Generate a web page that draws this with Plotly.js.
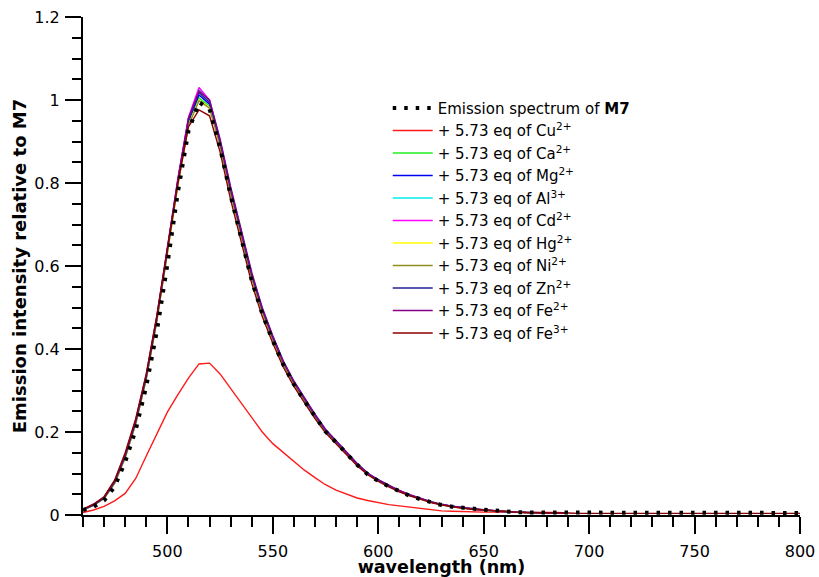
<!DOCTYPE html>
<html>
<head>
<meta charset="utf-8">
<script src="https://cdn.plot.ly/plotly-3.0.1.min.js"></script>
<style>html,body{margin:0;padding:0;background:#fff;}#chart{width:819px;height:577px;}</style>
</head>
<body>
<div id="chart"></div>
<script>
// wavelengths (nm)
const wl = [460,465,470,475,480,485,490,495,500,505,510,515,520,525,530,535,540,545,550,555,560,565,570,575,580,585,590,595,600,605,610,615,620,625,630,635,640,645,650,655,660,665,670,675,680,685,690,695,700,705,710,715,720,725,730,735,740,745,750,755,760,765,770,775,780,785,790,795,800];
const wlIon = [460,465,470,475,480,485,490,495,500,505,510,515,520,525,530,535,540,545,550,555,560,565,570,575,580,585,590,595,600,605,610,615,620,625,630,635,640,645,650,655,660,665,670,675,680,685,690];

const m7 = [0.012,0.020,0.035,0.068,0.128,0.205,0.310,0.442,0.603,0.778,0.925,0.995,0.978,0.885,0.770,0.665,0.565,0.485,0.420,0.362,0.315,0.275,0.236,0.201,0.175,0.148,0.121,0.098,0.082,0.069,0.057,0.046,0.038,0.030,0.024,0.020,0.017,0.014,0.013,0.011,0.008,0.007,0.006,0.006,0.006,0.006,0.005,0.005,0.005,0.005,0.005,0.005,0.005,0.005,0.005,0.005,0.005,0.005,0.005,0.005,0.005,0.005,0.005,0.005,0.005,0.005,0.005,0.005,0.005];
const cu = [0.006,0.012,0.021,0.034,0.052,0.088,0.142,0.195,0.248,0.290,0.330,0.364,0.366,0.340,0.305,0.270,0.236,0.200,0.172,0.150,0.130,0.108,0.090,0.073,0.060,0.050,0.041,0.035,0.030,0.025,0.022,0.019,0.015,0.012,0.010,0.009,0.008,0.008,0.007,0.007,0.007,0.007,0.007,0.007,0.007,0.006,0.005];
const ca = [0.013,0.024,0.040,0.076,0.138,0.220,0.328,0.468,0.632,0.798,0.942,1.005,0.985,0.893,0.778,0.673,0.573,0.490,0.424,0.364,0.317,0.277,0.237,0.202,0.175,0.149,0.121,0.099,0.083,0.070,0.058,0.047,0.039,0.031,0.025,0.020,0.017,0.014,0.012,0.010,0.008,0.007,0.006,0.006,0.005,0.005,0.005];
const mg = [0.012,0.023,0.041,0.078,0.141,0.223,0.331,0.471,0.636,0.802,0.948,1.012,0.990,0.896,0.781,0.676,0.576,0.493,0.426,0.366,0.319,0.279,0.239,0.204,0.177,0.150,0.122,0.100,0.084,0.071,0.058,0.048,0.040,0.031,0.025,0.021,0.017,0.014,0.012,0.010,0.008,0.007,0.006,0.006,0.005,0.005,0.004];
const al = [0.013,0.024,0.041,0.079,0.142,0.224,0.333,0.474,0.640,0.808,0.955,1.025,0.998,0.903,0.788,0.683,0.582,0.498,0.431,0.370,0.322,0.282,0.242,0.206,0.179,0.152,0.124,0.101,0.085,0.072,0.059,0.048,0.040,0.032,0.026,0.021,0.018,0.015,0.012,0.010,0.008,0.007,0.006,0.006,0.005,0.005,0.004];
const cd = [0.013,0.025,0.042,0.080,0.143,0.226,0.335,0.476,0.642,0.810,0.958,1.030,1.000,0.902,0.786,0.681,0.580,0.496,0.429,0.369,0.321,0.281,0.241,0.205,0.178,0.151,0.123,0.100,0.084,0.071,0.059,0.048,0.040,0.031,0.025,0.021,0.017,0.014,0.012,0.010,0.008,0.007,0.006,0.006,0.005,0.005,0.004];
const hg = [0.012,0.023,0.040,0.077,0.139,0.221,0.329,0.468,0.631,0.796,0.940,1.000,0.982,0.892,0.777,0.672,0.572,0.490,0.423,0.364,0.317,0.277,0.237,0.202,0.176,0.149,0.121,0.099,0.083,0.070,0.058,0.047,0.039,0.031,0.025,0.020,0.017,0.014,0.012,0.010,0.008,0.007,0.006,0.006,0.005,0.005,0.005];
const ni = [0.012,0.023,0.040,0.076,0.138,0.220,0.328,0.467,0.630,0.795,0.938,0.998,0.980,0.890,0.776,0.671,0.571,0.489,0.423,0.363,0.316,0.276,0.236,0.201,0.175,0.149,0.121,0.098,0.083,0.070,0.057,0.047,0.039,0.031,0.025,0.020,0.017,0.014,0.012,0.010,0.008,0.007,0.006,0.006,0.005,0.005,0.005];
const zn = [0.013,0.024,0.041,0.079,0.142,0.224,0.332,0.472,0.638,0.805,0.952,1.018,0.994,0.899,0.784,0.679,0.578,0.495,0.428,0.368,0.320,0.280,0.240,0.205,0.178,0.151,0.123,0.100,0.084,0.071,0.058,0.048,0.040,0.031,0.025,0.021,0.017,0.014,0.012,0.010,0.008,0.007,0.006,0.006,0.005,0.005,0.004];
const fe2 = [0.014,0.026,0.043,0.082,0.146,0.229,0.338,0.479,0.644,0.810,0.956,1.022,1.000,0.906,0.791,0.686,0.585,0.500,0.432,0.371,0.323,0.283,0.243,0.207,0.180,0.153,0.124,0.101,0.085,0.072,0.059,0.049,0.040,0.032,0.026,0.021,0.018,0.015,0.012,0.010,0.008,0.007,0.006,0.006,0.005,0.005,0.004];
const fe3 = [0.014,0.026,0.044,0.084,0.150,0.232,0.340,0.480,0.640,0.800,0.935,0.976,0.962,0.875,0.760,0.656,0.558,0.478,0.414,0.356,0.310,0.271,0.232,0.198,0.172,0.146,0.119,0.097,0.081,0.068,0.056,0.046,0.038,0.030,0.024,0.020,0.016,0.014,0.012,0.010,0.008,0.007,0.006,0.006,0.005,0.005,0.005,0.004,0.004,0.004,0.004,0.004,0.004,0.004,0.004,0.004,0.004,0.004,0.004,0.004,0.004,0.004,0.004,0.004,0.004,0.004,0.004,0.004,0.004];

const ionNames = ['+ 5.73 eq of Cu<sup>2+</sup>','+ 5.73 eq of Ca<sup>2+</sup>','+ 5.73 eq of Mg<sup>2+</sup>','+ 5.73 eq of Al<sup>3+</sup>','+ 5.73 eq of Cd<sup>2+</sup>','+ 5.73 eq of Hg<sup>2+</sup>','+ 5.73 eq of Ni<sup>2+</sup>','+ 5.73 eq of Zn<sup>2+</sup>','+ 5.73 eq of Fe<sup>2+</sup>','+ 5.73 eq of Fe<sup>3+</sup>'];
const ionData = [cu, ca, mg, al, cd, hg, ni, zn, fe2, fe3];
const ionX = [wlIon, wlIon, wlIon, wlIon, wlIon, wlIon, wlIon, wlIon, wlIon, wl];
const ionColors = ['#ff1a1a','#22ee22','#0000ee','#00eeee','#ff00ff','#ffff00','#8f8f1f','#20209a','#880088','#8b0000'];

const traces = [];
ionData.forEach((d, i) => {
  traces.push({x: ionX[i], y: d, type: 'scatter', mode: 'lines', name: ionNames[i],
    line: {color: ionColors[i], width: 1.4}, legendrank: i + 2});
});
traces.push({x: wl, y: m7, type: 'scatter', mode: 'lines', name: 'Emission spectrum of <b>M7</b>',
  line: {color: '#000000', width: 4, dash: '3.5px,8px'}, legendrank: 1});

const layout = {
  width: 819, height: 577,
  margin: {l: 83, r: 19, t: 17, b: 62},
  paper_bgcolor: '#ffffff', plot_bgcolor: '#ffffff',
  font: {family: 'DejaVu Sans, Verdana, sans-serif', color: '#000', size: 16},
  showlegend: true,
  legend: {x: 0.425, y: 0.85, xanchor: 'left', yanchor: 'top', bgcolor: 'rgba(0,0,0,0)', itemwidth: 40,
    font: {family: 'DejaVu Sans, Verdana, sans-serif', size: 15, color: '#000'}},
  xaxis: {range: [460, 800], tick0: 500, dtick: 50, ticks: 'outside', ticklen: 17, tickwidth: 2,
    tickcolor: '#000', showline: true, linecolor: '#000', linewidth: 2, showgrid: false, zeroline: false,
    ticklabelstandoff: 4,
    minor: {tick0: 460, dtick: 10, ticks: 'outside', ticklen: 10, tickwidth: 2, tickcolor: '#000', showgrid: false},
    title: {text: '<b>wavelength (nm)</b>', font: {size: 17.5}, standoff: 7}},
  yaxis: {range: [0, 1.2], dtick: 0.2, ticks: 'outside', ticklen: 16, tickwidth: 2, tickcolor: '#000',
    showline: true, linecolor: '#000', linewidth: 2, showgrid: false, zeroline: false,
    ticklabelstandoff: 2,
    minor: {dtick: 0.05, ticks: 'outside', ticklen: 9, tickwidth: 2, tickcolor: '#000', showgrid: false},
    title: {text: '<b>Emission intensity relative to M7</b>', font: {size: 18}, standoff: 3}}
};

Plotly.newPlot('chart', traces, layout, {displayModeBar: false, staticPlot: true});
</script>
</body>
</html>
